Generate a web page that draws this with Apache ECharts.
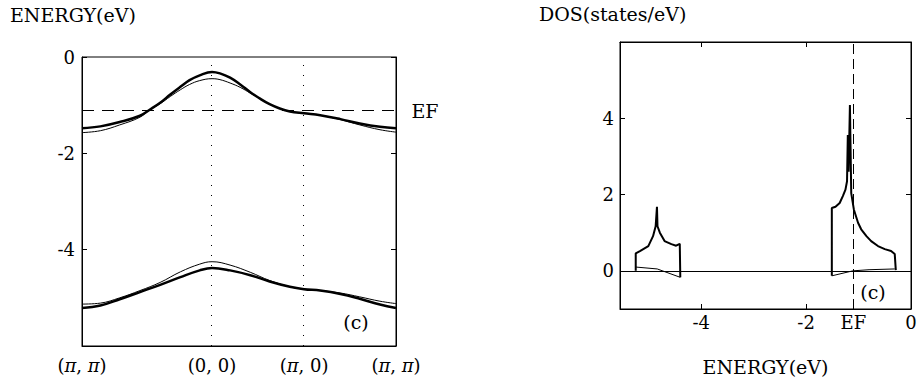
<!DOCTYPE html>
<html lang="en">
<head>
<meta charset="UTF-8">
<title>ENERGY / DOS</title>
<script src="https://cdn.jsdelivr.net/npm/echarts@6/dist/echarts.min.js"></script>
<style>
    html, body { margin: 0; padding: 0; background: #fff; }
    #chart { width: 917px; height: 385px; }
</style>
</head>
<body>
<div id="chart"></div>
<script type="text/javascript">
    // Fermi level (eV)
    var EF = -1.1;

    // k-path: (pi,pi) -> (0,0) -> (pi,0) -> (pi,pi)
    var kTicks = [0, 1.414, 2.414, 3.414];
    var kTickLabels = ['(π, π)', '(0, 0)', '(π, 0)', '(π, π)'];

    // upper band
    var kUpper = [0, 0.2, 0.41, 0.63, 0.74, 0.85, 0.96, 1.07, 1.17, 1.28, 1.414, 1.5, 1.61, 1.72, 1.83, 1.94, 2.04, 2.15, 2.26, 2.414, 2.59, 2.81, 3.02, 3.24, 3.414];
    var upperThick = [-1.48, -1.44, -1.35, -1.22, -1.09, -0.95, -0.78, -0.62, -0.48, -0.38, -0.31, -0.34, -0.43, -0.57, -0.73, -0.87, -0.98, -1.07, -1.13, -1.17, -1.21, -1.29, -1.38, -1.45, -1.48];
    var upperThin = [-1.57, -1.53, -1.41, -1.25, -1.09, -0.97, -0.82, -0.68, -0.57, -0.49, -0.45, -0.47, -0.54, -0.63, -0.75, -0.87, -0.98, -1.07, -1.13, -1.17, -1.21, -1.30, -1.41, -1.51, -1.56];

    // lower band
    var kLower = [0, 0.2, 0.41, 0.63, 0.85, 1.07, 1.28, 1.414, 1.61, 1.83, 2.04, 2.26, 2.414, 2.59, 2.81, 3.02, 3.24, 3.414];
    var lowerThick = [-5.21, -5.16, -5.03, -4.88, -4.73, -4.57, -4.43, -4.38, -4.43, -4.53, -4.66, -4.77, -4.82, -4.85, -4.92, -5.02, -5.14, -5.21];
    var lowerThin = [-5.13, -5.11, -5.00, -4.85, -4.68, -4.46, -4.30, -4.25, -4.32, -4.47, -4.64, -4.77, -4.82, -4.85, -4.90, -4.98, -5.07, -5.12];

    // DOS, lower band
    var dosLowE = [-5.25, -5.25, -5.17, -5.01, -4.92, -4.87, -4.845, -4.835, -4.79, -4.70, -4.57, -4.48, -4.44, -4.41, -4.40];
    var dosLowThick = [0, 0.46, 0.52, 0.65, 0.91, 1.17, 1.68, 1.17, 1.0, 0.78, 0.70, 0.66, 0.69, 0.71, -0.17];
    var dosLowThinE = [-5.25, -4.84, -4.40];
    var dosLowThin = [0.10, 0.05, -0.17];

    // DOS, upper band
    var dosUpE = [-1.51, -1.51, -1.44, -1.36, -1.30, -1.25, -1.22, -1.205, -1.19, -1.165, -1.14, -1.09, -1.01, -0.95, -0.85, -0.76, -0.63, -0.50, -0.38, -0.31, -0.29];
    var dosUpThick = [-0.13, 1.65, 1.68, 1.78, 1.96, 2.13, 2.35, 3.56, 2.6, 4.35, 2.04, 1.61, 1.26, 1.09, 0.91, 0.78, 0.65, 0.57, 0.52, 0.44, 0.02];
    var dosUpThinE = [-1.51, -1.11, -0.80, -0.31];
    var dosUpThin = [-0.13, 0.0, 0.03, 0.05];

    var dosXTicks = [-4, -2];
    var dosXLabels = [-4, -2, EF, 0];
    var dosYTicks = [0, 2, 4];

    var FONT = 'DejaVu Serif';

    function pairs(xs, ys) {
        var d = [];
        for (var i = 0; i < xs.length; i++) d.push([xs[i], ys[i]]);
        return d;
    }

    var labelStyle = { color: '#000', fontFamily: FONT, fontSize: 18 };
    var tickStyle = { inside: true, length: 5, lineStyle: { color: '#000', width: 1 } };
    var lineAxis = { show: true, onZero: false, lineStyle: { color: '#000', width: 1 } };

    var myChart = echarts.init(document.getElementById('chart'), null, { renderer: 'svg' });
    var option = {
        animation: false,
        backgroundColor: '#fff',
        textStyle: { fontFamily: FONT, color: '#000' },
        grid: [
            { left: 82, top: 57, width: 314, height: 289, show: true, borderColor: '#000', borderWidth: 1, outerBoundsMode: 'none' },
            { left: 620, top: 42, width: 291, height: 267, show: true, borderColor: '#000', borderWidth: 1, outerBoundsMode: 'none' }
        ],
        xAxis: [
            {
                gridIndex: 0, type: 'value', min: 0, max: 3.414,
                axisLine: lineAxis, axisTick: { show: false }, splitLine: { show: false },
                axisLabel: Object.assign({
                    margin: 10,
                    customValues: kTicks,
                    formatter: function (v) {
                        for (var i = 0; i < kTicks.length; i++) {
                            if (Math.abs(kTicks[i] - v) < 1e-6) {
                                return kTickLabels[i].replace(/π/g, '{i|π}');
                            }
                        }
                        return '';
                    },
                    rich: { i: { fontStyle: 'italic', fontFamily: FONT, fontSize: 18, color: '#000' } }
                }, labelStyle)
            },
            {
                gridIndex: 1, type: 'value', min: -5.55, max: 0,
                axisLine: lineAxis, splitLine: { show: false },
                axisTick: Object.assign({ customValues: dosXTicks }, tickStyle),
                axisLabel: Object.assign({
                    margin: 4,
                    customValues: dosXLabels,
                    formatter: function (v) {
                        if (Math.abs(v - EF) < 1e-6) return 'EF';
                        return String(v);
                    }
                }, labelStyle),
                name: 'ENERGY(eV)', nameLocation: 'middle', nameGap: 48,
                nameTextStyle: { color: '#000', fontFamily: FONT, fontSize: 19 }
            },
            {
                gridIndex: 1, type: 'value', position: 'top', min: -5.55, max: 0,
                axisLine: lineAxis, splitLine: { show: false }, axisLabel: { show: false },
                axisTick: Object.assign({ customValues: dosXTicks }, tickStyle)
            }
        ],
        yAxis: [
            {
                gridIndex: 0, type: 'value', min: -6, max: 0, interval: 2,
                axisLine: lineAxis, axisTick: tickStyle, splitLine: { show: false },
                axisLabel: Object.assign({
                    margin: 7,
                    formatter: function (v) { return v === -6 ? '' : String(v); }
                }, labelStyle)
            },
            {
                gridIndex: 0, type: 'value', position: 'right', min: -6, max: 0, interval: 2,
                axisLine: lineAxis, axisTick: tickStyle, splitLine: { show: false },
                axisLabel: { show: false }
            },
            {
                gridIndex: 1, type: 'value', min: -1, max: 6,
                axisLine: lineAxis, splitLine: { show: false },
                axisTick: Object.assign({ customValues: dosYTicks }, tickStyle),
                axisLabel: Object.assign({ margin: 6, customValues: dosYTicks }, labelStyle)
            },
            {
                gridIndex: 1, type: 'value', position: 'right', min: -1, max: 6,
                axisLine: lineAxis, splitLine: { show: false }, axisLabel: { show: false },
                axisTick: Object.assign({ customValues: dosYTicks }, tickStyle)
            }
        ],
        graphic: [
            { type: 'text', x: 10, y: 15, style: { text: 'ENERGY(eV)', fill: '#000', font: '19px "DejaVu Serif"', align: 'left', verticalAlign: 'middle' } },
            { type: 'text', x: 539, y: 14, style: { text: 'DOS(states/eV)', fill: '#000', font: '19px "DejaVu Serif"', align: 'left', verticalAlign: 'middle' } },
            { type: 'text', x: 425, y: 111, style: { text: 'EF', fill: '#000', font: '19px "DejaVu Serif"', align: 'center', verticalAlign: 'middle' } },
            { type: 'text', x: 356, y: 322, style: { text: '(c)', fill: '#000', font: '19px "DejaVu Serif"', align: 'center', verticalAlign: 'middle' } },
            { type: 'text', x: 873, y: 292, style: { text: '(c)', fill: '#000', font: '19px "DejaVu Serif"', align: 'center', verticalAlign: 'middle' } }
        ],
        series: [
            {
                name: 'upper thick', type: 'line', xAxisIndex: 0, yAxisIndex: 0,
                smooth: 0.4, showSymbol: false, data: pairs(kUpper, upperThick),
                lineStyle: { color: '#000', width: 2.5 },
                markLine: {
                    silent: true, symbol: 'none', label: { show: false },
                    data: [
                        { yAxis: EF, lineStyle: { color: '#000', width: 1, type: [12, 8] } },
                        { xAxis: kTicks[1], lineStyle: { color: '#000', width: 1, type: [1, 9] } },
                        { xAxis: kTicks[2], lineStyle: { color: '#000', width: 1, type: [1, 9] } }
                    ]
                }
            },
            {
                name: 'upper thin', type: 'line', xAxisIndex: 0, yAxisIndex: 0,
                smooth: 0.4, showSymbol: false, data: pairs(kUpper, upperThin),
                lineStyle: { color: '#000', width: 1 }
            },
            {
                name: 'lower thick', type: 'line', xAxisIndex: 0, yAxisIndex: 0,
                smooth: 0.4, showSymbol: false, data: pairs(kLower, lowerThick),
                lineStyle: { color: '#000', width: 2.5 }
            },
            {
                name: 'lower thin', type: 'line', xAxisIndex: 0, yAxisIndex: 0,
                smooth: 0.4, showSymbol: false, data: pairs(kLower, lowerThin),
                lineStyle: { color: '#000', width: 1 }
            },
            {
                name: 'dos low', type: 'line', xAxisIndex: 1, yAxisIndex: 2,
                showSymbol: false, data: pairs(dosLowE, dosLowThick),
                lineStyle: { color: '#000', width: 2 },
                markLine: {
                    silent: true, symbol: 'none', label: { show: false },
                    data: [
                        { yAxis: 0, lineStyle: { color: '#000', width: 1, type: 'solid' } },
                        { xAxis: EF, lineStyle: { color: '#000', width: 1, type: [10, 5] } }
                    ]
                }
            },
            {
                name: 'dos low thin', type: 'line', xAxisIndex: 1, yAxisIndex: 2,
                showSymbol: false, data: pairs(dosLowThinE, dosLowThin),
                lineStyle: { color: '#000', width: 1 }
            },
            {
                name: 'dos up', type: 'line', xAxisIndex: 1, yAxisIndex: 2,
                showSymbol: false, data: pairs(dosUpE, dosUpThick),
                lineStyle: { color: '#000', width: 2 }
            },
            {
                name: 'dos up thin', type: 'line', xAxisIndex: 1, yAxisIndex: 2,
                showSymbol: false, data: pairs(dosUpThinE, dosUpThin),
                lineStyle: { color: '#000', width: 1 }
            }
        ]
    };
    myChart.setOption(option);
</script>
</body>
</html>
